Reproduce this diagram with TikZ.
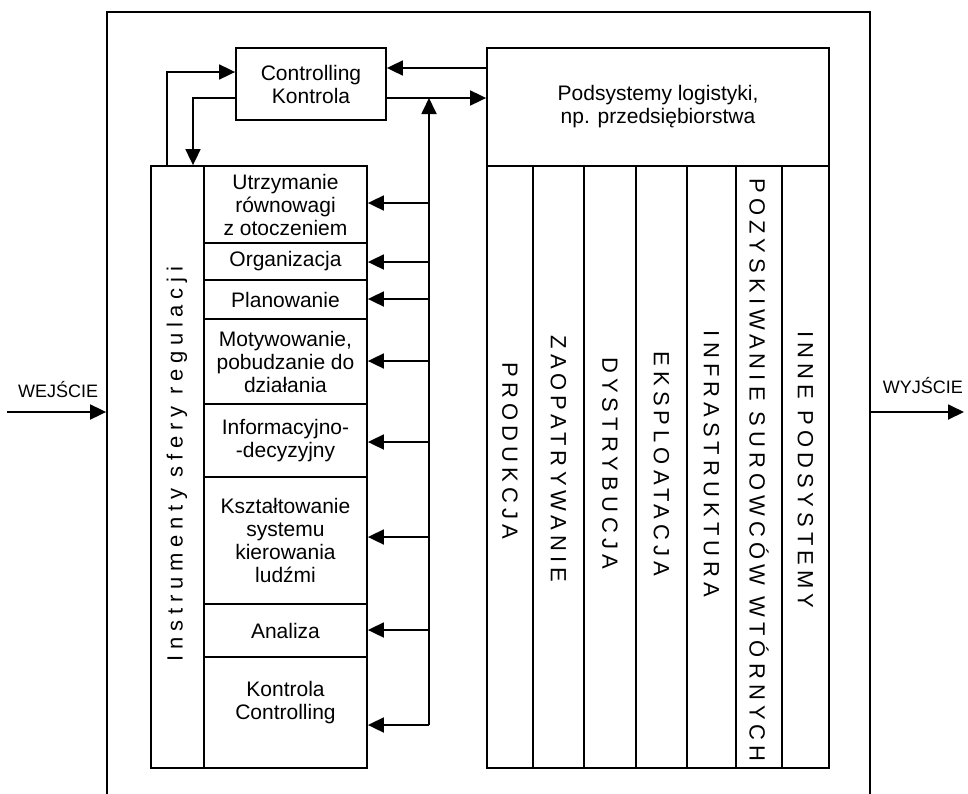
\documentclass[tikz,border=0pt]{standalone}
\usepackage{fontspec}
\setmainfont{Liberation Sans}
\newfontfamily\spaced[LetterSpace=23]{Liberation Sans}
\newfontfamily\spacedlow[LetterSpace=26]{Liberation Sans}
\usetikzlibrary{arrows.meta}
\begin{document}
\begin{tikzpicture}[x=1pt,y=-1pt,line width=1.8pt,
  box/.style={draw,line width=1.8pt,inner sep=0pt,align=center,font=\fontsize{21}{23}\selectfont},
  plain/.style={inner sep=0pt,align=center,font=\fontsize{21}{23}\selectfont},
  io/.style={inner sep=0pt,font=\fontsize{18}{20}\selectfont},
  vtext/.style={inner sep=0pt,font=\fontsize{22}{24}\selectfont\spaced,rotate=-90},
  arr/.style={-{Triangle[length=16pt,width=15pt]}}]
\useasboundingbox (0,0) rectangle (968,793);
\clip (0,0) rectangle (968,793);
% outer frame (bottom edge lies below the picture)
\node[draw,minimum width=763pt,minimum height=788pt,inner sep=0pt] (frame) at (488.5,406) {};
% control box and logistics box
\node[box,minimum width=150pt,minimum height=72pt] (ctrl) at (311,84) {Controlling\\Kontrola};
\node[box,minimum width=342pt,minimum height=118pt] (pod) at (658,107) {Podsystemy logistyki,\\np. przedsiębiorstwa};
% logistics columns
\node[box,minimum width=46pt,minimum height=602pt] (c1) at (510,467) {};
\node[box,minimum width=51pt,minimum height=602pt] (c2) at (558.5,467) {};
\node[box,minimum width=52pt,minimum height=602pt] (c3) at (610,467) {};
\node[box,minimum width=51pt,minimum height=602pt] (c4) at (661.5,467) {};
\node[box,minimum width=49pt,minimum height=602pt] (c5) at (711.5,467) {};
\node[box,minimum width=46pt,minimum height=602pt] (c6) at (759,467) {};
\node[box,minimum width=47pt,minimum height=602pt] (c7) at (805.5,467) {};
\node[vtext] (t1) at (510,451) {PRODUKCJA};
\node[vtext] (t2) at (558.5,459) {ZAOPATRYWANIE};
\node[vtext] (t3) at (610,463) {DYSTRYBUCJA};
\node[vtext] (t4) at (661.5,464) {EKSPLOATACJA};
\node[vtext] (t5) at (711.5,464) {INFRASTRUKTURA};
\node[vtext] (t6) at (759,470) {POZYSKIWANIE SUROWCÓW WTÓRNYCH};
\node[vtext] (t7) at (805.5,470) {INNE PODSYSTEMY};
% instruments
\node[box,minimum width=53pt,minimum height=602pt] (instr) at (177.5,467) {};
\node[inner sep=0pt,font=\fontsize{22}{24}\selectfont\spacedlow,rotate=90] (instrT) at (177,464) {Instrumenty sfery regulacji};
\node[box,minimum width=163pt,minimum height=77pt] (utrz) at (285.5,204.5) {Utrzymanie\\równowagi\\z otoczeniem};
\node[box,minimum width=163pt,minimum height=37pt] (org) at (285.5,261.5) {Organizacja};
\node[box,minimum width=163pt,minimum height=39pt] (plan) at (285.5,299.5) {Planowanie};
\node[box,minimum width=163pt,minimum height=85pt] (moty) at (285.5,361.5) {Motywowanie,\\pobudzanie do\\działania};
\node[box,minimum width=163pt,minimum height=73pt] (info) at (285.5,440.5) {Informacyjno-\\-decyzyjny};
\node[box,minimum width=163pt,minimum height=127pt] (ksz) at (285.5,540.5) {Kształtowanie\\systemu\\kierowania\\ludźmi};
\node[box,minimum width=163pt,minimum height=53pt] (anal) at (285.5,630.5) {Analiza};
\node[box,minimum width=163pt,minimum height=111pt] (kontr) at (285.5,712.5) {};
\node[plain] (kontrT) at (285.5,703) {Kontrola\\Controlling};
% input / output
\node[io,anchor=base east] (wej) at (99,397) {WEJŚCIE};
\node[io,anchor=base west] (wyj) at (882,393) {WYJŚCIE};
\coordinate (in) at (7,412);
\coordinate (out) at (964,412);
\draw[arr] (in) -- (in -| frame.west);
\draw[arr] (out -| frame.east) -- (out);
% links between control box and logistics box
\draw[arr] ([yshift=-14pt]ctrl.east) -- ([yshift=-14pt]ctrl.east -| pod.west);
\draw[arr] ([yshift=16pt]ctrl.east -| pod.west) -- ([yshift=16pt]ctrl.east);
% links between control box and instruments
\coordinate (l1) at (167,72);
\coordinate (l2) at (193,98);
\draw[arr] (l1 |- instr.north) -- (l1) -- (l1 -| ctrl.west);
\draw[arr] (l2 -| ctrl.west) -- (l2) -- (l2 |- instr.north);
% feedback bus
\coordinate (btop) at (429,98);
\coordinate (bbot) at (429,725);
\draw[arr] (bbot) -- (btop);
\coordinate (b1) at (429,203);
\coordinate (b2) at (429,262);
\coordinate (b3) at (429,299);
\coordinate (b4) at (429,361);
\coordinate (b5) at (429,442);
\coordinate (b6) at (429,537);
\coordinate (b7) at (429,630);
\draw[arr] (b1) -- (b1 -| utrz.east);
\draw[arr] (b2) -- (b2 -| org.east);
\draw[arr] (b3) -- (b3 -| plan.east);
\draw[arr] (b4) -- (b4 -| moty.east);
\draw[arr] (b5) -- (b5 -| info.east);
\draw[arr] (b6) -- (b6 -| ksz.east);
\draw[arr] (b7) -- (b7 -| anal.east);
\draw[arr] (bbot) -- (bbot -| kontr.east);
\end{tikzpicture}
\end{document}
